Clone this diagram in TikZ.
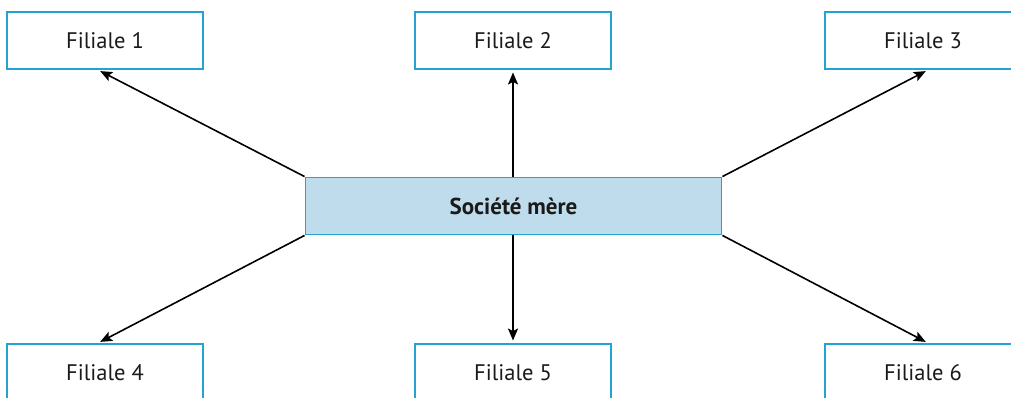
\documentclass[tikz,border=0pt]{standalone}
\usepackage{fontspec}
\setmainfont{PT Sans}
\usetikzlibrary{arrows.meta,calc}
\definecolor{edgeblue}{HTML}{23A3D3}
\definecolor{parentfill}{HTML}{BEDCEC}
\definecolor{inktext}{HTML}{1A1A1A}
\tikzset{
  unit/.style={draw=edgeblue, line width=1.9pt, fill=white, minimum width=196pt,
    minimum height=57pt, inner sep=0pt, font=\fontsize{22.5}{26}\selectfont, text=inktext},
  parent/.style={unit, fill=parentfill, minimum width=416pt,
    font=\fontsize{23}{26}\selectfont\bfseries},
  link/.style={draw=black, line width=1.6pt, shorten >=2.5pt,
    -{Stealth[length=12pt,width=10pt,inset=2.5pt]}}
}
\begin{document}
\begin{tikzpicture}[x=1pt,y=-1pt]
  \useasboundingbox (0,0) rectangle (1011,398);
  % parent company in the middle
  \node[parent] (m) at (513.5,206) {Société mère};
  % subsidiaries, top row
  \node[unit] (f1) at (105,40.5) {Filiale 1};
  \node[unit] (f2) at (513,40.5) {Filiale 2};
  \node[unit] (f3) at (923,40.5) {Filiale 3};
  % subsidiaries, bottom row
  \node[unit] (f4) at (105,372.5) {Filiale 4};
  \node[unit] (f5) at (513,372.5) {Filiale 5};
  \node[unit] (f6) at (923,372.5) {Filiale 6};
  % links from the parent to each subsidiary
  \draw[link] (m.north west) -- ($(f1.south)+(-7,0)$);
  \draw[link] (m.north -| f2.south) -- (f2.south);
  \draw[link] (m.north east) -- ($(f3.south)+(5,0)$);
  \draw[link] (m.south west) -- ($(f4.north)+(-7,0)$);
  \draw[link] (m.south -| f5.north) -- (f5.north);
  \draw[link] (m.south east) -- ($(f6.north)+(5,0)$);
\end{tikzpicture}
\end{document}
